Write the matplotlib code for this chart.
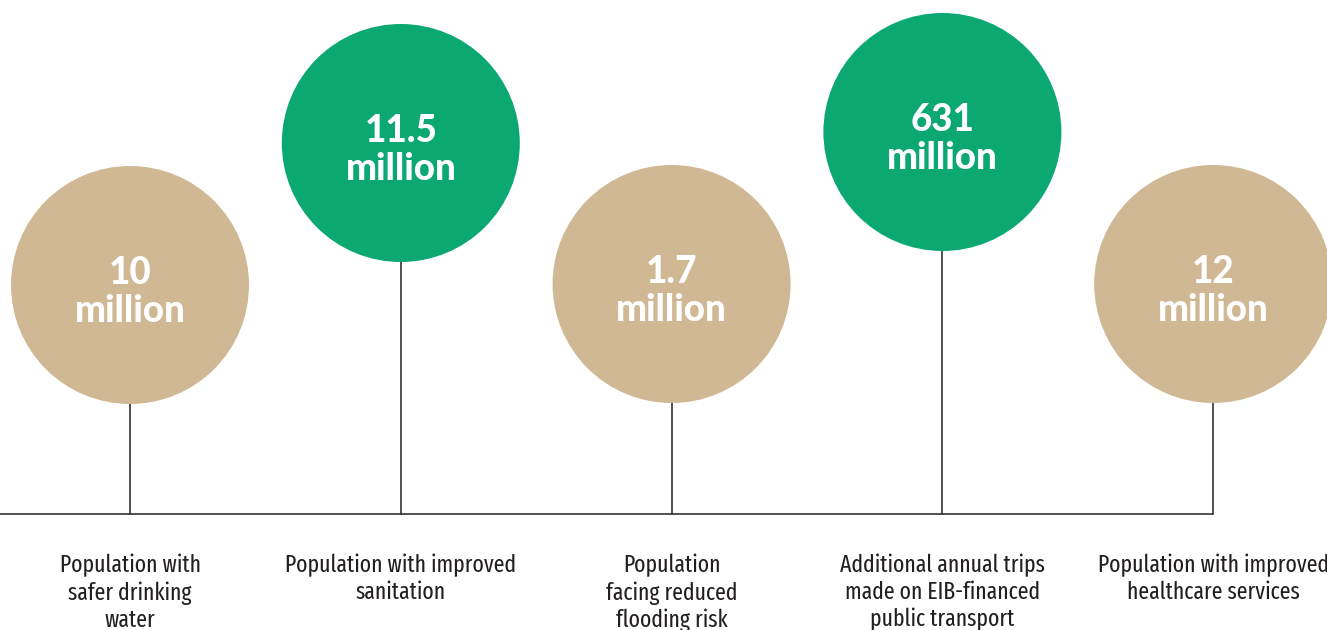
import matplotlib
matplotlib.use("Agg")
import matplotlib.pyplot as plt
from matplotlib.patches import Circle
from matplotlib import font_manager

values = ["10\nmillion", "11.5\nmillion", "1.7\nmillion", "631\nmillion", "12\nmillion"]
categories = [
    "Population with\nsafer drinking\nwater",
    "Population with improved\nsanitation",
    "Population\nfacing reduced\nflooding risk",
    "Additional annual trips\nmade on EIB-financed\npublic transport",
    "Population with improved\nhealthcare services",
]
colors = ["#D0B894", "#0BA872", "#D0B894", "#0BA872", "#D0B894"]

# layout
W, H = 1327, 630
x0, dx = 130, 270.8
cy = [285, 143, 284, 132, 284]
R = 119
base_y = 514

names = {f.name for f in font_manager.fontManager.ttflist}
label_font = "Fira Sans Extra Condensed" if "Fira Sans Extra Condensed" in names else "DejaVu Sans"
num_font = "Lato" if "Lato" in names else "DejaVu Sans"

fig = plt.figure(figsize=(W / 100, H / 100), dpi=100)
ax = fig.add_axes([0, 0, 1, 1])
ax.set_xlim(0, W)
ax.set_ylim(H, 0)
ax.axis("off")

xs = [x0 + i * dx for i in range(len(values))]
ax.plot([0, xs[-1]], [base_y, base_y], color="#333333", lw=1.2, solid_capstyle="butt", zorder=1)
for i, (x, y, v, c, lab) in enumerate(zip(xs, cy, values, colors, categories)):
    ax.plot([x, x], [y + R - 2, base_y], color="#333333", lw=1.2, zorder=1)
    ax.add_patch(Circle((x, y), R, facecolor=c, edgecolor="none", zorder=2))
    ax.text(x, y + 7, v, ha="center", va="center", color="white", fontsize=26.5,
            family=num_font, fontweight=900, linespacing=1.12, zorder=3)
    ax.text(x, 554, lab, ha="center", va="top", color="#231F20", fontsize=17,
            family=label_font, fontweight=400, linespacing=1.2)

fig.savefig("out.png", dpi=100)
